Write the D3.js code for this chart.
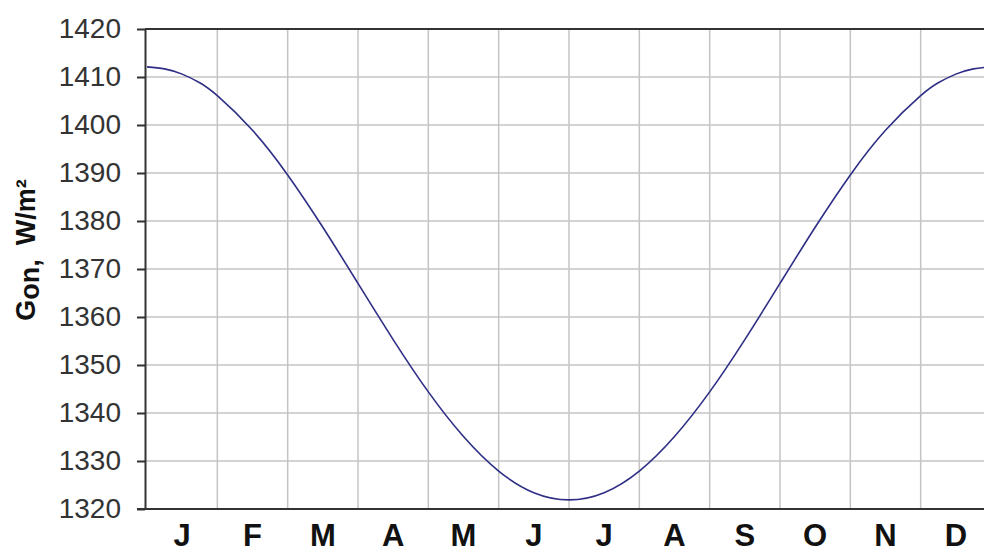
<!DOCTYPE html>
<html>
  <head>
    <meta http-equiv="Content-Type" content="text/html;charset=utf-8"/>
    <title>Gon over the year</title>
    <script src="https://d3js.org/d3.v7.min.js"></script>
    <style>
      body { margin: 0; background: #fff; }
      svg { display: block; font-family: "Liberation Sans", Arial, sans-serif; }
    </style>
  </head>
  <body>
    <script type="text/javascript">
        // month initials along the bottom
        const monthLabels = ['J', 'F', 'M', 'A', 'M', 'J', 'J', 'A', 'S', 'O', 'N', 'D']
        // y ticks
        const yTicks = [1320, 1330, 1340, 1350, 1360, 1370, 1380, 1390, 1400, 1410, 1420]
        // curve: position in months (0 = 1 Jan) and Gon in W/m2
        const curveMonths = [0, 0.25, 0.5, 0.75, 1, 1.5, 2, 2.5, 3, 3.5, 4, 4.5, 5, 5.5, 6,
                             6.5, 7, 7.5, 8, 8.5, 9, 9.5, 10, 10.5, 11, 11.25, 11.5, 11.75, 12]
        const curveValues = [1412.1, 1411.7, 1410.6, 1408.8, 1406.1, 1398.9, 1389.6, 1378.7, 1367.0, 1355.3, 1344.4, 1335.1, 1327.9, 1323.4, 1321.9,
                             1323.4, 1327.9, 1335.1, 1344.4, 1355.3, 1367.0, 1378.7, 1389.6, 1398.9, 1406.1, 1408.8, 1410.6, 1411.7, 1412.1]

        const width = 984,
            height = 554

        const svg = d3.select("body").append("svg")
            .attr("width", width)
            .attr("height", height)

        const x = d3.scaleLinear().domain([0, 12]).range([147, 991])
        const y = d3.scaleLinear().domain([1320, 1420]).range([509, 29])
        const axisX = 145

        // grid
        svg.append("g")
            .selectAll("line")
            .data(d3.range(1, 12))
            .join("line")
            .attr("x1", d => x(d)).attr("x2", d => x(d))
            .attr("y1", y(1420)).attr("y2", y(1320))
            .attr("stroke", "#c4c4c4")
            .attr("stroke-width", 1.5)

        svg.append("g")
            .selectAll("line")
            .data(yTicks.slice(1, -1))
            .join("line")
            .attr("x1", axisX).attr("x2", width)
            .attr("y1", d => y(d)).attr("y2", d => y(d))
            .attr("stroke", "#c4c4c4")
            .attr("stroke-width", 1.5)

        // y axis
        const yAxis = svg.append("g")
            .attr("transform", `translate(${axisX},0)`)
            .call(d3.axisLeft(y).tickValues(yTicks).tickFormat(d3.format("d"))
                .tickSize(8).tickPadding(16).tickSizeOuter(0))
        yAxis.select(".domain").attr("stroke", "#333").attr("stroke-width", 2)
        yAxis.selectAll(".tick line").attr("stroke", "#333").attr("stroke-width", 2)
        yAxis.selectAll(".tick text")
            .attr("font-size", 28)
            .attr("fill", "#333")
            .attr("font-family", "Liberation Sans, Arial, sans-serif")

        // top and bottom frame lines
        svg.append("line")
            .attr("x1", axisX).attr("x2", width)
            .attr("y1", y(1420)).attr("y2", y(1420))
            .attr("stroke", "#333").attr("stroke-width", 2)
        svg.append("line")
            .attr("x1", axisX - 8).attr("x2", width)
            .attr("y1", y(1320)).attr("y2", y(1320))
            .attr("stroke", "#333").attr("stroke-width", 2)

        // month labels
        svg.append("g")
            .selectAll("text")
            .data(monthLabels)
            .join("text")
            .attr("x", (d, i) => x(i + 0.5))
            .attr("y", 546)
            .attr("text-anchor", "middle")
            .attr("font-size", 31)
            .attr("font-weight", "bold")
            .attr("fill", "#111")
            .text(d => d)

        // y title
        const title = svg.append("text")
            .attr("transform", "translate(35,250) rotate(-90)")
            .attr("text-anchor", "middle")
            .attr("font-size", 27)
            .attr("font-weight", "bold")
            .attr("fill", "#111")
        title.append("tspan").text("G")
        title.append("tspan").attr("dy", 4).text("on,")
        title.append("tspan").attr("dy", -4).attr("dx", 14).text("W/m²")

        // the curve
        const pts = curveMonths.map((m, i) => [m, curveValues[i]])
        svg.append("path")
            .datum(pts)
            .attr("d", d3.line().x(d => x(d[0])).y(d => y(d[1])).curve(d3.curveNatural))
            .attr("fill", "none")
            .attr("stroke", "#2e2e86")
            .attr("stroke-width", 1.6)
    </script>
  </body>
</html>
